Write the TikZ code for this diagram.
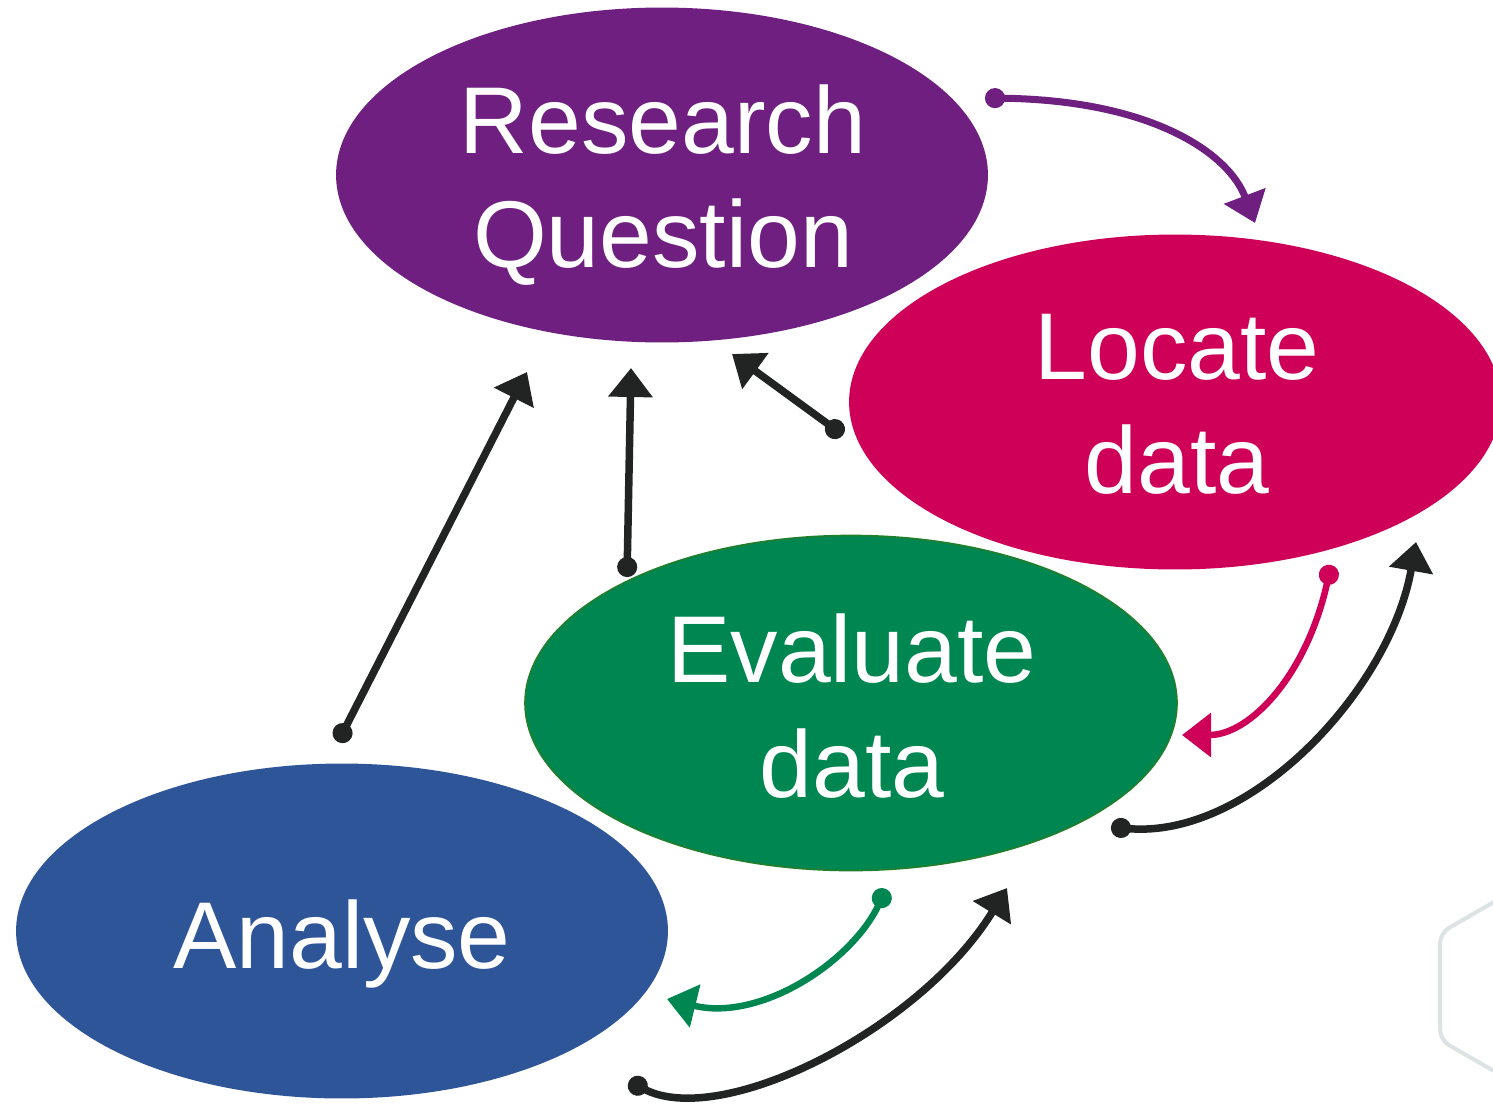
\documentclass[tikz,border=0pt]{standalone}
\usepackage{fontspec}
\setmainfont{Liberation Sans}
\usetikzlibrary{arrows.meta,shapes.geometric}
\definecolor{CyclePurple}{HTML}{6E1F7F}
\definecolor{CycleRose}{HTML}{CF0057}
\definecolor{CycleGreen}{HTML}{008651}
\definecolor{CycleGreenEdge}{HTML}{1F7F2E}
\definecolor{CycleBlue}{HTML}{2E5597}
\definecolor{CycleInk}{HTML}{222423}
\definecolor{CycleMist}{HTML}{DDE3E4}

\tikzset{
  stage/.style={ellipse,inner sep=0pt,minimum width=13.04cm,
        minimum height=6.7cm},
  stagetext/.style={text=white,align=center,inner sep=0pt,
        font=\fontsize{54}{65}\selectfont},
  link/.style={line width=0.15cm,
        {Circle[length=0.4cm]}-{Triangle[length=0.58cm,width=0.86cm]}},
}

\begin{document}
\begin{tikzpicture}[x=0.02cm,y=-0.02cm]
  \clip (0,0) rectangle (1493,1109);
  \fill[white] (0,0) rectangle (1493,1109);
  % faint hexagon at the lower right edge
  \draw[CycleMist,line width=0.08cm,rounded corners=6pt]
        (1541,875) -- (1440,933) -- (1440,1040) -- (1541,1098);
  % the four stages
  \node[stage,fill=CyclePurple] (rq) at (662,175) {};
  \node[stage,fill=CycleRose] (ld) at (1175,402) {};
  \node[stage,fill=CycleGreen,draw=CycleGreenEdge,line width=1pt]
        (ed) at (851,703) {};
  \node[stage,fill=CycleBlue] (an) at (342,931) {};
  \node[stagetext] (rq-text) at (663,185) {Research\\Question};
  \node[stagetext] (ld-text) at (1177,404) {Locate\\data};
  \node[stagetext] (ed-text) at (852,706) {Evaluate\\data};
  \node[stagetext] (an-text) at (342,944) {Analyse};
  % connector ends
  \coordinate (rq-out) at (985,98);   \coordinate (ld-in) at (1255,223);
  \coordinate (ld-back) at (843,435); \coordinate (rq-in1) at (732,354);
  \coordinate (ed-back) at (627,577); \coordinate (rq-in2) at (631,368);
  \coordinate (an-back) at (338,742); \coordinate (rq-in3) at (527,372);
  \coordinate (ld-out) at (1331,565); \coordinate (ed-in) at (1182,735);
  \coordinate (ed-up) at (1111,827);  \coordinate (ld-up) at (1416,542);
  \coordinate (ed-out) at (886,889);  \coordinate (an-in) at (667,999);
  \coordinate (an-up) at (629,1081);  \coordinate (ed-upin) at (1007,888);
  % forward links
  \draw[link,CyclePurple,line width=0.14cm] (rq-out)
        .. controls (1150,100) and (1228,152) .. (ld-in);
  \draw[link,CycleRose,line width=0.13cm] (ld-out)
        .. controls (1307,675) and (1250,735) .. (ed-in);
  \draw[link,CycleGreen,line width=0.13cm] (ed-out)
        .. controls (852,962) and (760,1022) .. (an-in);
  % links back
  \draw[link,CycleInk] (ld-back) -- (rq-in1);
  \draw[link,CycleInk] (ed-back) -- (rq-in2);
  \draw[link,CycleInk] (an-back) -- (rq-in3);
  \draw[link,CycleInk] (ed-up)
        .. controls (1250,840) and (1390,690) .. (ld-up);
  \draw[link,CycleInk] (an-up)
        .. controls (720,1130) and (920,1030) .. (ed-upin);
\end{tikzpicture}
\end{document}
